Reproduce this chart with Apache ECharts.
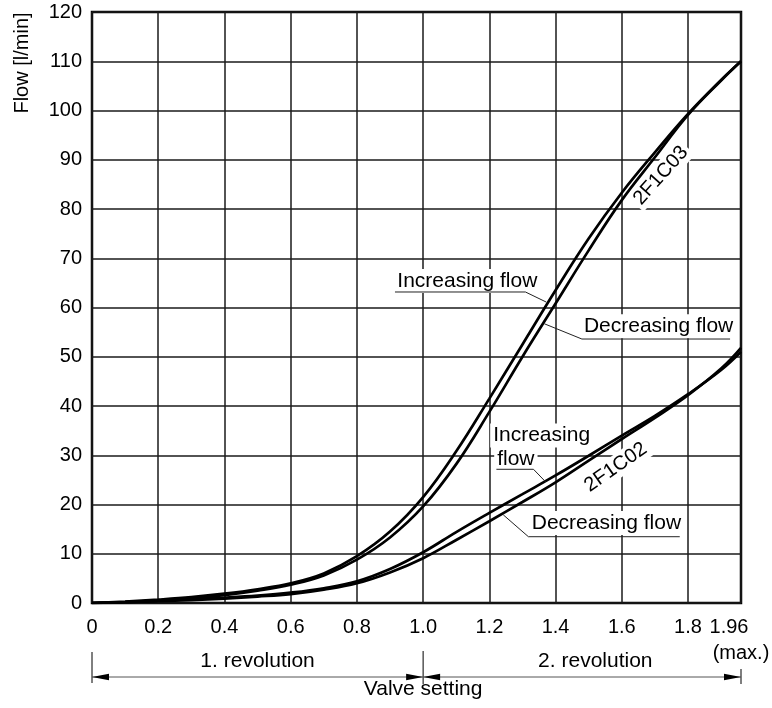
<!DOCTYPE html>
<html>
<head>
<meta charset="utf-8">
<script src="https://cdn.jsdelivr.net/npm/echarts@6/dist/echarts.min.js"></script>
<style>
html,body{margin:0;padding:0;background:#fff}
#c{width:772px;height:708px}
</style>
</head>
<body>
<div id="c"></div>
<script>
// ---------- data ----------
const xTickValues = [0, 0.2, 0.4, 0.6, 0.8, 1.0, 1.2, 1.4, 1.6, 1.8, 1.96];
const xTickLabels = ['0', '0.2', '0.4', '0.6', '0.8', '1.0', '1.2', '1.4', '1.6', '1.8', '1.96'];
const yMax = 120;
const yStep = 10;

const setting = [0, 0.1, 0.2, 0.3, 0.4, 0.5, 0.6, 0.7, 0.8, 0.9, 1.0, 1.1, 1.2, 1.3, 1.4, 1.5, 1.6, 1.7, 1.8, 1.9, 1.96];
const c03Increasing = [0, 0.3, 0.7, 1.2, 1.9, 2.8, 4.0, 6.0, 9.5, 14.5, 21.5, 30.8, 41.5, 52.5, 63.5, 74.0, 83.3, 91.5, 99.3, 106.2, 110];
const c03Decreasing = [0, 0.2, 0.5, 1.0, 1.6, 2.5, 3.7, 5.6, 8.8, 13.3, 19.6, 28.2, 38.8, 50.0, 60.8, 71.6, 81.8, 90.5, 99.1, 106.1, 110];
const c02Increasing = [0, 0.2, 0.5, 0.8, 1.1, 1.5, 2.1, 3.0, 4.4, 6.9, 10.3, 14.4, 18.3, 22.1, 25.9, 29.9, 34.0, 38.0, 42.4, 47.3, 51.0];
const c02Decreasing = [0, 0.15, 0.4, 0.6, 0.9, 1.3, 1.8, 2.7, 4.0, 6.2, 9.1, 12.8, 16.6, 20.5, 24.5, 28.9, 33.3, 37.6, 42.2, 47.6, 51.8];

// ---------- chart ----------
const FONT = '"Liberation Sans", Arial, Helvetica, sans-serif';
const zip = (xs, ys) => xs.map((x, i) => [x, ys[i]]);

function curve(name, ys) {
  return {
    name: name, type: 'line', data: zip(setting, ys),
    showSymbol: false, symbol: 'none', smooth: 0.4,
    lineStyle: { color: '#000', width: 2.7 }, z: 3, silent: true, animation: false
  };
}

const chart = echarts.init(document.getElementById('c'), null, { renderer: 'canvas' });

const option = {
  animation: false,
  backgroundColor: '#fff',
  grid: {
    left: 92, right: 31, top: 12, bottom: 105,
    containLabel: false, outerBoundsMode: 'none',
    show: true, borderColor: '#000', borderWidth: 2.5, backgroundColor: 'transparent'
  },
  xAxis: {
    type: 'value', min: 0, max: xTickValues[xTickValues.length - 1], interval: 0.2,
    axisLine: { show: false }, axisTick: { show: false },
    splitLine: { show: true, lineStyle: { color: '#1a1a1a', width: 1.5 } },
    axisLabel: {
      margin: 11, fontSize: 20, fontFamily: FONT, color: '#000', lineHeight: 26,
      showMaxLabel: true, showMinLabel: true,
      formatter: function (v) {
        const i = xTickValues.findIndex(t => Math.abs(t - v) < 1e-6);
        if (i < 0) return '';
        if (i === xTickValues.length - 1) return '{a|' + xTickLabels[i] + '}\n{b|(max.)}';
        return xTickLabels[i];
      },
      rich: {
        a: { fontSize: 20, fontFamily: FONT, color: '#000', lineHeight: 26, padding: [0, 24, 0, 0] },
        b: { fontSize: 20, fontFamily: FONT, color: '#000', lineHeight: 26 }
      }
    }
  },
  yAxis: {
    type: 'value', min: 0, max: yMax, interval: yStep,
    axisLine: { show: false }, axisTick: { show: false },
    splitLine: { show: true, lineStyle: { color: '#1a1a1a', width: 1.5 } },
    axisLabel: { margin: 10, fontSize: 20, fontFamily: FONT, color: '#000' }
  },
  series: [
    curve('2F1C03 Increasing flow', c03Increasing),
    curve('2F1C03 Decreasing flow', c03Decreasing),
    curve('2F1C02 Increasing flow', c02Increasing),
    curve('2F1C02 Decreasing flow', c02Decreasing)
  ]
};
chart.setOption(option);

// ---------- annotations ----------
const P = (v, f) => chart.convertToPixel({ gridIndex: 0 }, [v, f]);
const XP = v => chart.convertToPixel({ xAxisIndex: 0 }, v);
const els = [];
function text(str, x, y, opt) {
  opt = opt || {};
  const shift = (opt.align === 'left' && opt.bg) ? -3 : 0;
  els.push({
    type: 'text', x: x + shift, y: y, rotation: opt.rotation || 0, z: opt.z || 1,
    style: {
      text: str, x: 0, y: 0, font: (opt.size || 21) + 'px ' + FONT, fill: '#000',
      align: opt.align || 'center', verticalAlign: 'middle',
      textAlign: opt.align || 'center', textVerticalAlign: 'middle',
      backgroundColor: opt.bg ? '#fff' : null, padding: opt.bg ? [2, 3, 1, 3] : 0
    }
  });
}
function line(a, b, color, w) {
  els.push({ type: 'line', z: 4, shape: { x1: a[0], y1: a[1], x2: b[0], y2: b[1] },
    style: { stroke: color || '#000', lineWidth: w || 1 } });
}
function polyline(pts, color, w) {
  els.push({ type: 'polyline', z: 4, shape: { points: pts },
    style: { stroke: color || '#222', lineWidth: w || 1, fill: null } });
}
function arrow(tipX, y, dir) {
  const L = 17, H = 3.2;
  els.push({ type: 'polygon', z: 4, shape: { points: [[tipX, y], [tipX - dir * L, y - H], [tipX - dir * L, y + H]] },
    style: { fill: '#000' } });
}

// y-axis title
text('Flow [l/min]', 22, 63, { rotation: Math.PI / 2, size: 20 });

// upper pair labels
let p = P(0.922, 65.4);
text('Increasing flow', p[0], p[1], { align: 'left', bg: true });
polyline([P(0.915, 63.15), P(1.309, 63.15), P(1.372, 61.1)]);

p = P(1.4855, 56.2);
text('Decreasing flow', p[0], p[1], { align: 'left', bg: true });
polyline([P(1.927, 53.6), P(1.4795, 53.6), P(1.366, 56.7)]);

// lower pair labels
p = P(1.2116, 34.0);
text('Increasing', p[0], p[1], { align: 'left', bg: true });
p = P(1.2237, 29.1);
text('flow', p[0], p[1], { align: 'left', bg: true });
polyline([P(1.2213, 27.15), P(1.3333, 27.15), P(1.370, 24.6)]);

p = P(1.328, 16.24);
text('Decreasing flow', p[0], p[1], { align: 'left', bg: true });
polyline([P(1.775, 13.46), P(1.318, 13.46), P(1.242, 17.9)]);

// model labels
p = P(1.582, 27.55);
text('2F1C02', p[0], p[1], { rotation: 35 * Math.PI / 180, bg: true, size: 20 });
p = P(1.718, 86.8);
text('2F1C03', p[0], p[1], { rotation: 48 * Math.PI / 180, bg: true, size: 20 });

// bottom bracket
const x0 = XP(xTickValues[0]), x1 = XP(1.0), x2 = XP(xTickValues[xTickValues.length - 1]);
const yb = 677;
line([x0, 652], [x0, 683], '#000', 1);
line([x1, 651], [x1, 684], '#000', 1);
line([x2, 669], [x2, 684], '#000', 1);
line([x0, yb], [x2, yb], '#555', 1);
arrow(x0, yb, -1);
arrow(x1, yb, 1);
arrow(x1, yb, -1);
arrow(x2, yb, 1);
text('1. revolution', XP(0.5), 661);
text('2. revolution', XP(1.52), 661);
text('Valve setting', x1, 689);

chart.setOption({ graphic: { elements: els } });
</script>
</body>
</html>
